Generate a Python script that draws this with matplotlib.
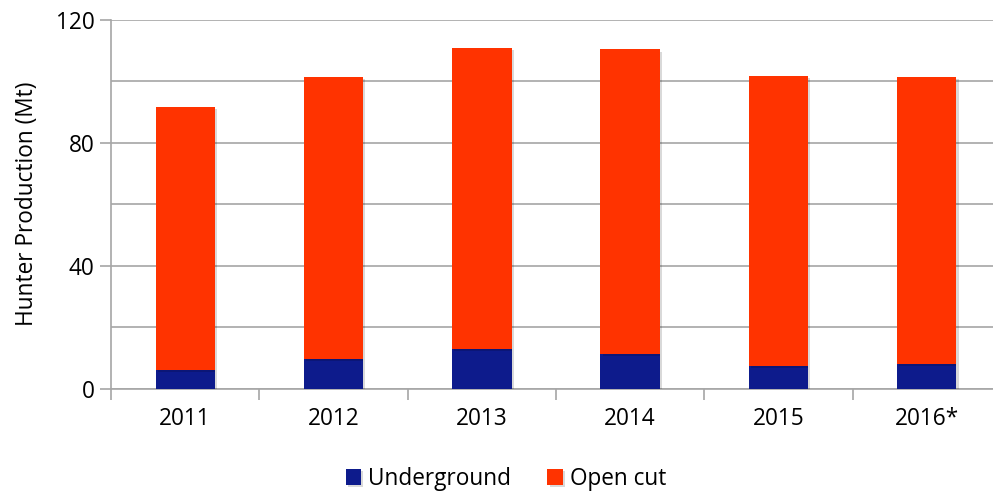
import matplotlib
matplotlib.use("Agg")
import matplotlib.pyplot as plt
import matplotlib.patheffects as pe
import numpy as np

# values (Mt)
years = ["2011", "2012", "2013", "2014", "2015", "2016*"]
underground = [6.1, 9.7, 13.0, 11.1, 7.3, 8.1]
open_cut = [85.6, 91.9, 97.8, 99.3, 94.4, 93.3]

col_under = "#0D1B8C"
col_open = "#FF3300"
grid_col = "#A6A6A6"

plt.rcParams['font.family'] = ['Open Sans', 'DejaVu Sans']
fs = 16.3

fig = plt.figure(figsize=(9.93, 4.94), dpi=100)
ax = fig.add_axes([111 / 993, 105.5 / 494, 890 / 993, 368.5 / 494])

x = np.arange(len(years))
shadow = [pe.SimplePatchShadow(offset=(1.5, -1.5), shadow_rgbFace="#000000", alpha=0.15), pe.Normal()]
b1 = ax.bar(x, underground, width=0.4, color=col_under, label="Underground", zorder=3)
b2 = ax.bar(x, open_cut, width=0.4, bottom=underground, color=col_open, label="Open cut", zorder=3)
for b in list(b1) + list(b2):
    b.set_path_effects(shadow)

ax.set_xlim(-0.5, len(years) - 0.5)
ax.set_ylim(0, 120)
ax.set_yticks([0, 40, 80, 120])
ax.set_yticks(np.arange(0, 121, 20), minor=True)
ax.grid(axis='y', which='both', color=grid_col, linewidth=1.2, zorder=0)

ax.set_xticks(x)
ax.set_xticklabels(years)
ax.set_xticks(np.arange(-0.5, len(years), 1.0), minor=True)
ax.tick_params(axis='x', which='major', length=0, pad=13, labelsize=fs)
ax.tick_params(axis='x', which='minor', length=8, color=grid_col, width=1.2)
ax.tick_params(axis='y', which='major', length=8, color=grid_col, width=1.2, labelsize=fs, pad=4)
ax.tick_params(axis='y', which='minor', length=0)

for s in ['top', 'right']:
    ax.spines[s].set_visible(False)
for s in ['left', 'bottom']:
    ax.spines[s].set_color(grid_col)
    ax.spines[s].set_linewidth(1.2)

ax.set_ylabel("Hunter Production (Mt)", fontsize=fs, labelpad=12)

fig.legend(handles=[b1, b2], loc='center', bbox_to_anchor=(506 / 993, 1 - 479 / 494),
           ncol=2, frameon=False, fontsize=fs, handlelength=0.7, handleheight=0.7,
           handletextpad=0.3, columnspacing=1.6)

fig.savefig("out.png", dpi=100)
